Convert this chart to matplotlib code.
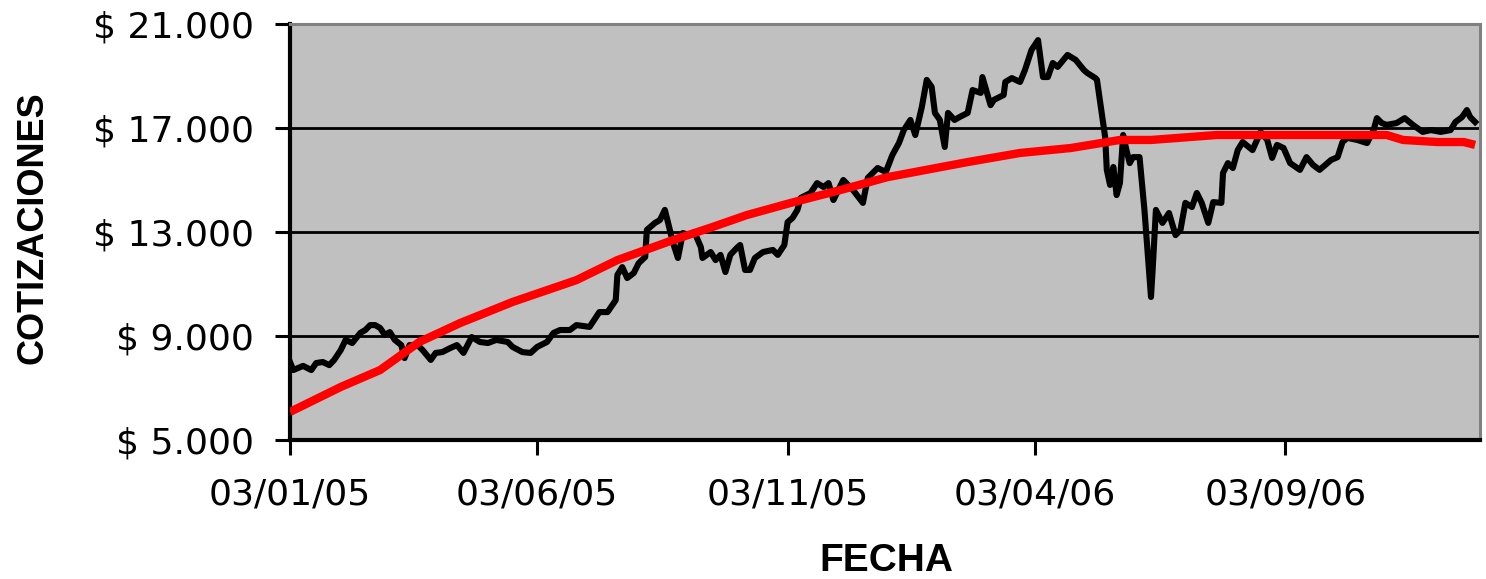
import numpy as np
import matplotlib
matplotlib.use("Agg")
import matplotlib.pyplot as plt
import matplotlib.dates as mdates

# dias desde 03/01/05 y cotizaciones
inicio = np.datetime64("2005-01-03")
fin = np.datetime64("2006-12-31")

dias_cot = [0, 2, 8, 13, 16, 20, 24, 27, 31, 34, 38, 43, 46, 49, 52, 55, 58, 61, 64, 68,
            70, 73, 78, 81, 86, 89, 93, 98, 102, 106, 111, 116, 121, 126, 133, 136, 142, 147, 151, 157,
            161, 165, 171, 175, 183, 189, 194, 199, 200, 203, 206, 210, 213, 217, 218, 223, 226, 229, 231, 234,
            237, 240, 244, 247, 251, 252, 257, 260, 263, 266, 269, 273, 275, 278, 281, 284, 289, 295, 298, 302,
            304, 307, 310, 312, 318, 322, 326, 329, 332, 338, 344, 350, 353, 359, 364, 368, 372, 375, 379, 382,
            386, 389, 392, 394, 397, 400, 402, 406, 409, 414, 417, 422, 423, 428, 430, 436, 437, 441, 446, 449,
            453, 457, 460, 463, 466, 469, 475, 480, 485, 487, 492, 493, 495, 498, 499, 501, 503, 505, 507, 509,
            511, 513, 515, 519, 522, 526, 527, 529, 533, 537, 541, 544, 547, 551, 554, 557, 561, 564, 569, 570,
            573, 576, 579, 582, 588, 593, 597, 600, 603, 607, 611, 617, 621, 625, 629, 636, 640, 643, 646, 652,
            658, 662, 664, 667, 670, 676, 681, 686, 692, 697, 703, 709, 712, 716, 719, 721, 724]
cotizacion = [8000, 7690, 7850, 7690, 7960, 8000, 7880, 8080, 8460, 8850, 8730, 9120, 9230, 9420, 9420, 9310, 9040, 9150, 8850, 8650,
              8150, 8650, 8650, 8460, 8080, 8350, 8380, 8540, 8650, 8350, 8960, 8770, 8730, 8850, 8770, 8580, 8380, 8350, 8580, 8770,
              9120, 9230, 9230, 9420, 9350, 9920, 9920, 10380, 11350, 11650, 11230, 11420, 11800, 12040, 13080, 13350, 13460, 13850, 13350, 12580,
              12000, 12960, 12880, 13000, 12420, 12000, 12230, 11920, 12120, 11460, 12120, 12390, 12500, 11540, 11540, 12000, 12230, 12310, 12120, 12500,
              13380, 13540, 13850, 14310, 14500, 14880, 14730, 14880, 14230, 15000, 14610, 14120, 15080, 15460, 15310, 15960, 16420, 16920, 17310, 16730,
              17810, 18850, 18580, 17580, 17310, 16270, 17580, 17310, 17420, 17580, 18460, 18350, 18960, 17880, 18080, 18270, 18770, 18920, 18770, 19230,
              20000, 20380, 18960, 18960, 19500, 19350, 19810, 19620, 19230, 19120, 18920, 18850, 17960, 16650, 15390, 14810, 15500, 14420, 14880, 16730,
              16150, 15650, 15880, 15880, 13850, 10500, 11540, 13850, 13350, 13730, 12880, 13080, 14120, 13960, 14500, 14120, 13350, 14150, 14120, 15270,
              15650, 15460, 16150, 16460, 16150, 16850, 16540, 15850, 16350, 16230, 15650, 15390, 15880, 15580, 15390, 15770, 15880, 16460, 16620, 16540,
              16420, 16920, 17380, 17190, 17120, 17190, 17380, 17120, 16850, 16920, 16850, 16920, 17230, 17420, 17690, 17420, 17230]

dias_media = [0, 31, 55, 79, 104, 136, 175, 200, 234, 258, 279, 306, 336, 365, 414, 446, 477, 507, 526, 566,
              611, 670, 680, 701, 717, 724]
media = [6080, 7040, 7690, 8770, 9500, 10310, 11150, 11920, 12690, 13190, 13650, 14120, 14610, 15110, 15690, 16040, 16230, 16540, 16540, 16730,
         16730, 16730, 16540, 16460, 16460, 16350]

fechas_ticks = ["2005-01-03", "2005-06-03", "2005-11-03", "2006-04-03", "2006-09-03"]
y_ticks = [5000, 9000, 13000, 17000, 21000]
y_labels = ["$ 5.000", "$ 9.000", "$ 13.000", "$ 17.000", "$ 21.000"]

fechas_cot = inicio + np.array(dias_cot, dtype="timedelta64[D]")
fechas_media = inicio + np.array(dias_media, dtype="timedelta64[D]")

fig = plt.figure(figsize=(14.86, 5.79), dpi=100)
ax = fig.add_axes([290 / 1486, 1 - 440 / 579, 1190 / 1486, 416 / 579])
ax.set_facecolor("#C0C0C0")

ax.plot(fechas_cot, cotizacion, color="black", lw=4.4, solid_joinstyle="round", zorder=3)
ax.plot(fechas_media, media, color="#FF0000", lw=6.0, solid_joinstyle="round",
        solid_capstyle="butt", zorder=4)

ax.set_ylim(5000, 21000)
ax.set_xlim(inicio, fin)
ax.set_yticks(y_ticks)
ax.set_yticklabels(y_labels)
ax.set_xticks(np.array(fechas_ticks, dtype="datetime64[D]"))
ax.xaxis.set_major_formatter(mdates.DateFormatter("%d/%m/%y"))

ax.grid(axis="y", color="black", lw=2.0, zorder=1)
ax.set_axisbelow(True)

ax.tick_params(axis="both", direction="out", length=11, width=2.2, labelsize=26, color="black")
ax.tick_params(axis="y", pad=15)
ax.tick_params(axis="x", pad=16)

for lado in ["top", "right"]:
    ax.spines[lado].set_color("#808080")
    ax.spines[lado].set_linewidth(2.2)
for lado in ["left", "bottom"]:
    ax.spines[lado].set_color("black")
    ax.spines[lado].set_linewidth(3.0)

fig.text(33 / 1486, 1 - 228 / 579, "COTIZACIONES", rotation=90, ha="center", va="center",
         fontsize=26, fontweight="bold", family="Liberation Sans")
fig.text(886 / 1486, 8 / 579, "FECHA", ha="center", va="baseline",
         fontsize=28, fontweight="bold", family="Liberation Sans")

fig.savefig("out.png", dpi=100)
